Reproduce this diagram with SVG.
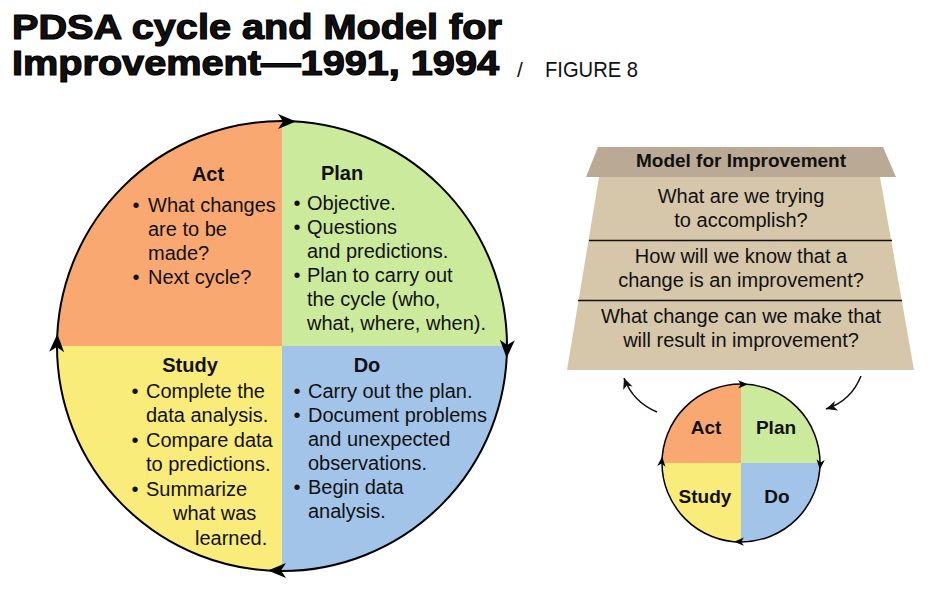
<svg xmlns="http://www.w3.org/2000/svg" width="942" height="604" viewBox="0 0 942 604">
<defs>
<style>
.t{font-family:"Liberation Sans",Arial,sans-serif;fill:#111;}
.body{font-size:20px;}
.head{font-size:20px;font-weight:bold;}
.mid{text-anchor:middle;}
.ring{fill:none;stroke:#000;stroke-width:2;}
.ringS{fill:none;stroke:#000;stroke-width:1.5;}
.act{fill:#F9A872;}
.plan{fill:#CCEA9C;}
.study{fill:#FAEC7A;}
.do{fill:#A3C4E9;}
.conn{fill:none;stroke:#111;stroke-width:1.5;}
.ttl{font-size:35px;font-weight:bold;stroke:#000;stroke-width:1.2;}
</style>
<path id="ah" d="M0,0 L-18,-7.5 L-13,0 L-18,7.5 Z" fill="#000"/>
<marker id="mk" viewBox="-12 -6 13 12" refX="0" refY="0" markerWidth="13" markerHeight="12" markerUnits="userSpaceOnUse" orient="auto">
<path d="M0,0 L-11,-5 L-8,0 L-11,5 Z" fill="#111"/>
</marker>
</defs>
<rect width="942" height="604" fill="#fff"/>

<g id="title">
<text class="t ttl" x="12" y="39" textLength="490" lengthAdjust="spacingAndGlyphs">PDSA cycle and Model for</text>
<text class="t ttl" x="12" y="75" textLength="487" lengthAdjust="spacingAndGlyphs">Improvement—1991, 1994</text>
<text class="t" x="517" y="77" font-size="21">/</text>
<text class="t" x="545" y="77" font-size="22" textLength="93" lengthAdjust="spacingAndGlyphs">FIGURE 8</text>
</g>

<g id="pdsa-large">
<g id="act-large">
<path class="act" d="M282,346 L57,346 A225,225 0 0 1 282,121 Z"/>
<text class="t head mid" x="208" y="181">Act</text>
<g class="t body">
<text x="136" y="212" class="mid">•</text><text x="148" y="212">What changes</text>
<text x="148" y="236">are to be</text>
<text x="148" y="260">made?</text>
<text x="136" y="284" class="mid">•</text><text x="148" y="284">Next cycle?</text>
</g>
</g>
<g id="plan-large">
<path class="plan" d="M282,346 L282,121 A225,225 0 0 1 507,346 Z"/>
<text class="t head mid" x="342" y="180">Plan</text>
<g class="t body">
<text x="297" y="210" class="mid">•</text><text x="307" y="210">Objective.</text>
<text x="297" y="234" class="mid">•</text><text x="307" y="234">Questions</text>
<text x="307" y="258">and predictions.</text>
<text x="297" y="282" class="mid">•</text><text x="307" y="282">Plan to carry out</text>
<text x="307" y="306">the cycle (who,</text>
<text x="307" y="330">what, where, when).</text>
</g>
</g>
<g id="do-large">
<path class="do" d="M282,346 L507,346 A225,225 0 0 1 282,571 Z"/>
<text class="t head mid" x="367" y="372">Do</text>
<g class="t body">
<text x="297" y="398" class="mid">•</text><text x="308" y="398">Carry out the plan.</text>
<text x="297" y="422" class="mid">•</text><text x="308" y="422">Document problems</text>
<text x="308" y="446">and unexpected</text>
<text x="308" y="470">observations.</text>
<text x="297" y="494" class="mid">•</text><text x="308" y="494">Begin data</text>
<text x="308" y="518">analysis.</text>
</g>
</g>
<g id="study-large">
<path class="study" d="M282,346 L282,571 A225,225 0 0 1 57,346 Z"/>
<text class="t head mid" x="190" y="372">Study</text>
<g class="t body">
<text x="135" y="398" class="mid">•</text><text x="146" y="398">Complete the</text>
<text x="146" y="422">data analysis.</text>
<text x="135" y="447" class="mid">•</text><text x="146" y="447">Compare data</text>
<text x="146" y="471">to predictions.</text>
<text x="135" y="496" class="mid">•</text><text x="146" y="496">Summarize</text>
<text x="173" y="520">what was</text>
<text x="195" y="545">learned.</text>
</g>
</g>
<g id="cycle-large">
<circle class="ring" cx="282" cy="346" r="225"/>
<use href="#ah" transform="translate(296,121.5)"/>
<use href="#ah" transform="translate(506.7,358) rotate(92)"/>
<use href="#ah" transform="translate(268,570.5) rotate(180)"/>
<use href="#ah" transform="translate(57.3,334) rotate(-88)"/>
</g>
</g>

<g id="model-for-improvement">
<path d="M598,147 L883,147 L896,177 L586,177 Z" fill="#BAA994"/>
<path d="M599,177 L880,177 L914,370 L567,370 Z" fill="#D6C6AA"/>
<line x1="589" y1="240.5" x2="892" y2="240.5" stroke="#111" stroke-width="1.5"/>
<line x1="578" y1="300.5" x2="902" y2="300.5" stroke="#111" stroke-width="1.5"/>
<text class="t mid" x="741" y="167" font-size="19" font-weight="bold">Model for Improvement</text>
<g class="t body mid">
<text x="741" y="203">What are we trying</text>
<text x="741" y="227">to accomplish?</text>
<text x="741" y="263">How will we know that a</text>
<text x="741" y="287">change is an improvement?</text>
<text x="741" y="323">What change can we make that</text>
<text x="741" y="347">will result in improvement?</text>
</g>
</g>

<g id="pdsa-small">
<g id="act-small">
<path class="act" d="M741,463 L662,463 A79,79 0 0 1 741,384 Z"/>
<text class="t mid" x="706" y="434" font-size="19" font-weight="bold">Act</text>
</g>
<g id="plan-small">
<path class="plan" d="M741,463 L741,384 A79,79 0 0 1 820,463 Z"/>
<text class="t mid" x="776" y="434" font-size="19" font-weight="bold">Plan</text>
</g>
<g id="do-small">
<path class="do" d="M741,463 L820,463 A79,79 0 0 1 741,542 Z"/>
<text class="t mid" x="777" y="503" font-size="19" font-weight="bold">Do</text>
</g>
<g id="study-small">
<path class="study" d="M741,463 L741,542 A79,79 0 0 1 662,463 Z"/>
<text class="t mid" x="705" y="503" font-size="19" font-weight="bold">Study</text>
</g>
<g id="cycle-small">
<circle class="ringS" cx="741" cy="463" r="79"/>
<use href="#ah" transform="translate(748,384.3) scale(0.55)"/>
<use href="#ah" transform="translate(819.8,469.5) rotate(95) scale(0.55)"/>
<use href="#ah" transform="translate(734,541.7) rotate(180) scale(0.55)"/>
<use href="#ah" transform="translate(662.2,456.5) rotate(-85) scale(0.55)"/>
</g>
</g>

<g id="connectors">
<path class="conn" d="M657,412 Q633,402 624,378" marker-end="url(#mk)"/>
<path class="conn" d="M861,376 Q851,401 826,409" marker-end="url(#mk)"/>
</g>
</svg>
